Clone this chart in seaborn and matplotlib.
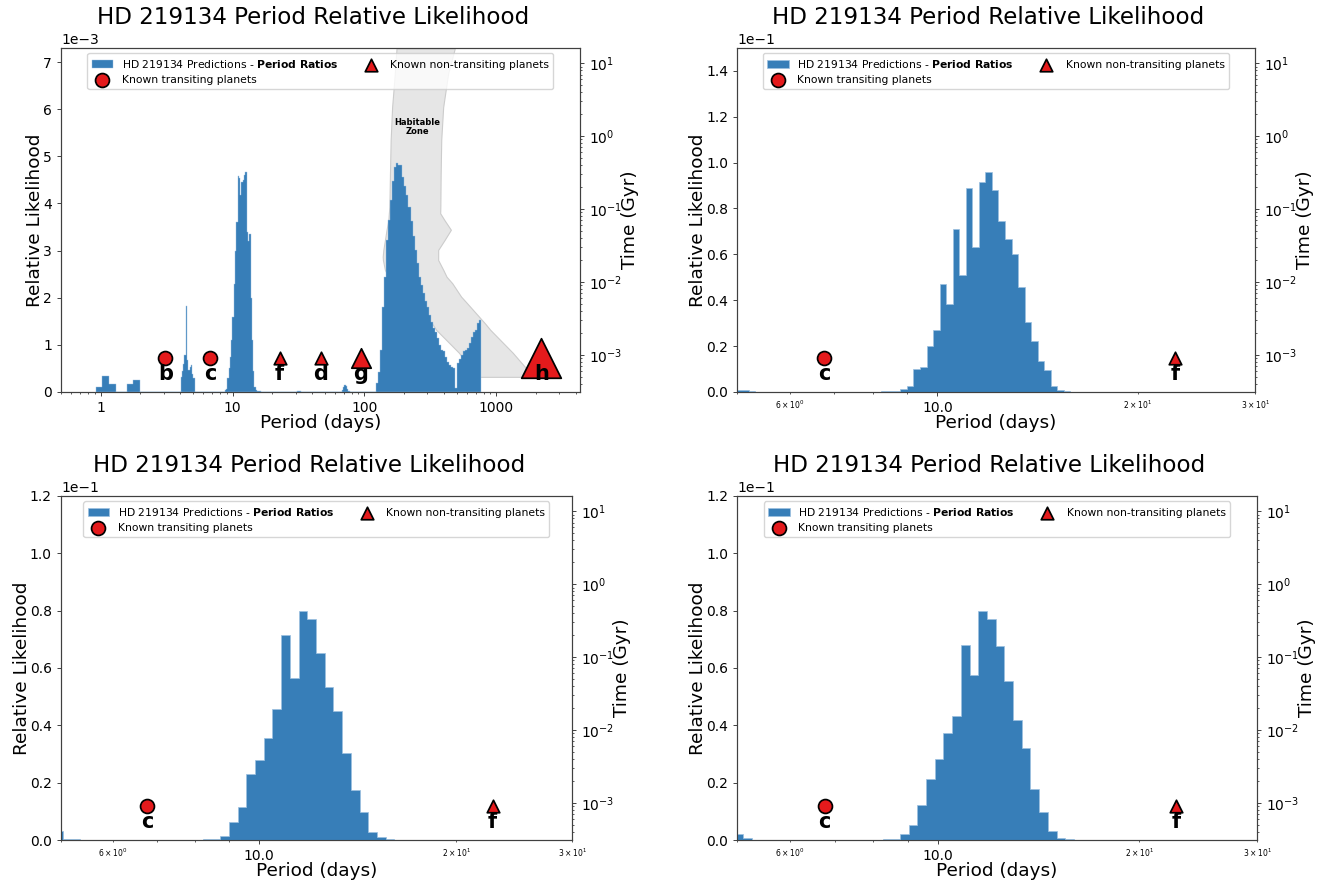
import numpy as np
import pandas as pd
import matplotlib
matplotlib.use("Agg")
import matplotlib.pyplot as plt
import matplotlib.ticker as mticker
import seaborn as sns

star = "HD 219134"

# known planets
planet_names = ["b", "c", "f", "d", "g", "h"]
planet_periods = [3.093, 6.765, 22.717, 46.859, 94.2, 2198.0]
planet_transiting = [True, True, False, False, False, False]

# histogram pieces: (first bin edge in days, bin width in dex, relative likelihoods)
full_segments = [
    (0.916, 0.0504, [0.10e-3, 0.34e-3, 0.16e-3]),
    (1.59, 0.0467, [0.17e-3, 0.25e-3]),
    (4.03, 0.0098, [0.32e-3, 0.45e-3, 0.60e-3, 0.78e-3, 1.82e-3, 0.67e-3, 0.46e-3,
                    0.53e-3, 0.57e-3, 0.39e-3, 0.30e-3]),
    (8.71, 0.0098, [0.05e-3, 0.07e-3, 0.30e-3, 0.50e-3, 0.75e-3, 1.10e-3, 1.60e-3,
                    2.30e-3, 3.00e-3, 3.60e-3, 4.58e-3, 4.55e-3, 4.18e-3, 4.45e-3,
                    4.50e-3, 4.60e-3, 4.67e-3, 3.40e-3, 3.20e-3, 3.36e-3, 2.00e-3,
                    1.10e-3, 0.45e-3, 0.10e-3, 0.05e-3, 0.03e-3, 0.03e-3, 0.02e-3]),
    (30.7, 0.0098, [0.02e-3, 0.02e-3, 0.02e-3]),
    (67.3, 0.0098, [0.05e-3, 0.10e-3, 0.15e-3, 0.12e-3, 0.06e-3, 0.03e-3]),
    (122.4, 0.01537, [0.18e-3, 0.43e-3, 0.89e-3, 1.81e-3, 2.45e-3, 3.23e-3, 3.65e-3,
                      4.08e-3, 4.47e-3, 4.78e-3, 4.85e-3, 4.82e-3, 4.82e-3, 4.57e-3,
                      4.36e-3, 4.18e-3, 3.93e-3, 3.62e-3, 3.30e-3, 3.01e-3, 2.73e-3,
                      2.45e-3, 2.27e-3, 2.09e-3, 1.92e-3, 1.81e-3, 1.63e-3, 1.49e-3,
                      1.35e-3, 1.28e-3, 1.14e-3, 1.00e-3, 0.89e-3, 0.86e-3, 0.75e-3,
                      0.64e-3, 0.57e-3, 0.54e-3, 0.50e-3, 0.08e-3, 0.61e-3, 0.71e-3,
                      0.79e-3, 0.86e-3, 0.89e-3, 0.93e-3, 1.03e-3, 1.17e-3, 1.28e-3,
                      1.32e-3, 1.46e-3, 1.53e-3]),
]

zoom_a_segments = [
    (4.975, 0.00982, [0.0009, 0.0009, 0.0004]),
    (8.22, 0.00982, [0.0004, 0.0004, 0.0004, 0.0015, 0.0028, 0.0100, 0.0110, 0.0200,
                     0.0270, 0.0470, 0.0385, 0.0710, 0.0510, 0.0890, 0.0630, 0.0914,
                     0.0959, 0.0880, 0.0746, 0.0669, 0.0600, 0.0458, 0.0307, 0.0221,
                     0.0134, 0.0094, 0.0028, 0.0010, 0.0004]),
]

zoom_b_segments = [
    (4.877, 0.01328, [0.0031, 0.0003, 0.0003]),
    (8.217, 0.01328, [0.0002, 0.0002, 0.0014, 0.0063, 0.0114, 0.0229, 0.0280, 0.0357,
                      0.0457, 0.0714, 0.0566, 0.0798, 0.0770, 0.0651, 0.0533, 0.0450,
                      0.0302, 0.0173, 0.0098, 0.0027, 0.0009, 0.0003]),
]

zoom_c_segments = [
    (4.955, 0.01302, [0.0021, 0.0006]),
    (8.255, 0.01302, [0.0002, 0.0002, 0.0020, 0.0053, 0.0122, 0.0212, 0.0283, 0.0373,
                      0.0433, 0.0681, 0.0576, 0.0800, 0.0770, 0.0677, 0.0556, 0.0420,
                      0.0322, 0.0178, 0.00965, 0.0031, 0.0008, 0.0002]),
]

# habitable zone edges (days) against system age (Gyr)
hz_time = [16.0, 7.3, 2.5, 0.9, 0.3, 0.108, 0.0875, 0.07, 0.052, 0.0377, 0.0275,
           0.0223, 0.020, 0.0146, 0.0118, 0.0096, 0.0063, 0.0051, 0.0027, 0.0022,
           0.00107, 0.00065, 0.0005]
hz_inner = [175, 170, 162, 158, 156, 154.5, 153, 151.7, 147, 143, 139, 137.5, 138,
            143, 152, 165.5, 200, 221, 325, 350, 520, 643, 727]
hz_outer = [484, 431, 395, 382, 378, 376, 375, 405, 452, 405, 362, 362, 362, 396,
            419, 463, 540, 600, 820, 900, 1330, 1688, 1896]

# styling
blue = "#377eb8"
edge_blue = "#9cc0e0"
red = "#e41a1c"
planet_marker_pt = [10, 10, 9, 9, 14, 28.5]
time_lim = (3.1e-4, 16.2)


def build_bins(segments):
    edges, heights = [], []
    for start, width, values in segments:
        seg_edges = start * 10 ** (width * np.arange(len(values) + 1))
        if edges:
            heights.append(0.0)  # empty stretch between two pieces
        edges.extend(seg_edges)
        heights.extend(values)
    edges = np.array(edges)
    df = pd.DataFrame({"period": np.sqrt(edges[:-1] * edges[1:]),
                       "likelihood": heights})
    return list(edges), df


sns.set_style("white", {"axes.edgecolor": "0.25", "xtick.bottom": True,
                        "ytick.left": True})
plt.rcParams.update({
    "font.family": ["DejaVu Sans"],
    "text.color": "black",
    "axes.labelcolor": "black",
    "xtick.color": "0.25",
    "ytick.color": "0.25",
    "xtick.labelcolor": "black",
    "ytick.labelcolor": "black",
    "axes.linewidth": 0.8,
    "xtick.major.size": 3.0,
    "ytick.major.size": 3.0,
    "xtick.minor.size": 1.7,
    "ytick.minor.size": 1.7,
    "xtick.major.width": 0.7,
    "ytick.major.width": 0.7,
})

fig = plt.figure(figsize=(13.28, 8.86), dpi=100)

panels = [
    dict(pos=[0.0459, 0.5576, 0.3908, 0.3883], segs=full_segments,
         xlim=(0.5, 4300), ylim=(0, 7.3e-3), hz=True, fmt="%g", lw=0.3),
    dict(pos=[0.5550, 0.5576, 0.3901, 0.3883], segs=zoom_a_segments,
         xlim=(5, 30), ylim=(0, 0.15), hz=False, fmt="%.1f", lw=0.5),
    dict(pos=[0.0459, 0.0519, 0.3848, 0.3883], segs=zoom_b_segments,
         xlim=(5, 30), ylim=(0, 0.12), hz=False, fmt="%.1f", lw=0.5),
    dict(pos=[0.5550, 0.0519, 0.3916, 0.3883], segs=zoom_c_segments,
         xlim=(5, 30), ylim=(0, 0.12), hz=False, fmt="%.1f", lw=0.5),
]

for p in panels:
    ax = fig.add_axes(p["pos"])
    edges, df = build_bins(p["segs"])
    sns.histplot(data=df, x="period", weights="likelihood", bins=edges,
                 element="step", fill=True, color=blue, alpha=1,
                 edgecolor=edge_blue, linewidth=p["lw"], ax=ax,
                 label=f"{star} Predictions - " + r"$\bf{Period\ Ratios}$")
    ax.set_xscale("log")
    ax.set_xlim(*p["xlim"])
    ymax = p["ylim"][1]
    ax.set_ylim(*p["ylim"])

    first_t, first_nt = True, True
    for name, per, tr, ms in zip(planet_names, planet_periods, planet_transiting,
                                 planet_marker_pt):
        if not (p["xlim"][0] < per < p["xlim"][1]):
            continue
        if tr:
            lab = "Known transiting planets" if first_t else None
            first_t = False
        else:
            lab = "Known non-transiting planets" if first_nt else None
            first_nt = False
        sns.scatterplot(x=[per], y=[0.1 * ymax], marker="o" if tr else "^",
                        s=ms ** 2, color=red, edgecolor="black", linewidth=1.25,
                        zorder=5, ax=ax, label=lab, legend=False)
        ax.text(per, 0.036 * ymax, name, ha="center", va="baseline", fontsize=15,
                fontweight="bold", color="black", zorder=6)

    ax.xaxis.set_major_formatter(mticker.FormatStrFormatter(p["fmt"]))
    ax.ticklabel_format(axis="y", style="sci", scilimits=(0, 0))
    off = ax.yaxis.get_offset_text()
    off.set_fontsize(10)
    off.set_horizontalalignment("right")
    off.set_x(-0.025)
    ax.tick_params(axis="both", which="major", labelsize=10)
    ax.tick_params(axis="x", which="minor", labelsize=5.5)
    ax.set_xlabel("Period (days)", fontsize=13.3, labelpad=-1)
    ax.set_ylabel("Relative Likelihood", fontsize=13.3, labelpad=-1)
    ax.set_title(f"{star} Period Relative Likelihood", fontsize=16.6, pad=6.5,
                 x=0.485)

    ax2 = ax.twinx()
    ax2.set_yscale("log")
    ax2.set_ylim(*time_lim)
    ax2.set_ylabel("Time (Gyr)", fontsize=13.3, labelpad=-1)
    ax2.tick_params(axis="y", which="major", labelsize=10)
    if p["hz"]:
        ax2.fill_betweenx(hz_time, hz_inner, hz_outer, facecolor="#e6e6e6",
                          edgecolor="#cccccc", linewidth=0.8)
        ax2.text(250, 1.35, "Habitable\nZone", ha="center", va="center",
                 fontsize=6, fontweight="bold", linespacing=1.0)
    ax.set_xlim(*p["xlim"])
    ax.set_zorder(ax2.get_zorder() + 1)
    ax.patch.set_visible(False)

    handles, labels = ax.get_legend_handles_labels()
    ax.legend(handles, labels, loc="upper center", ncol=2, fontsize=7.75)

fig.savefig("out.png", dpi=100)
